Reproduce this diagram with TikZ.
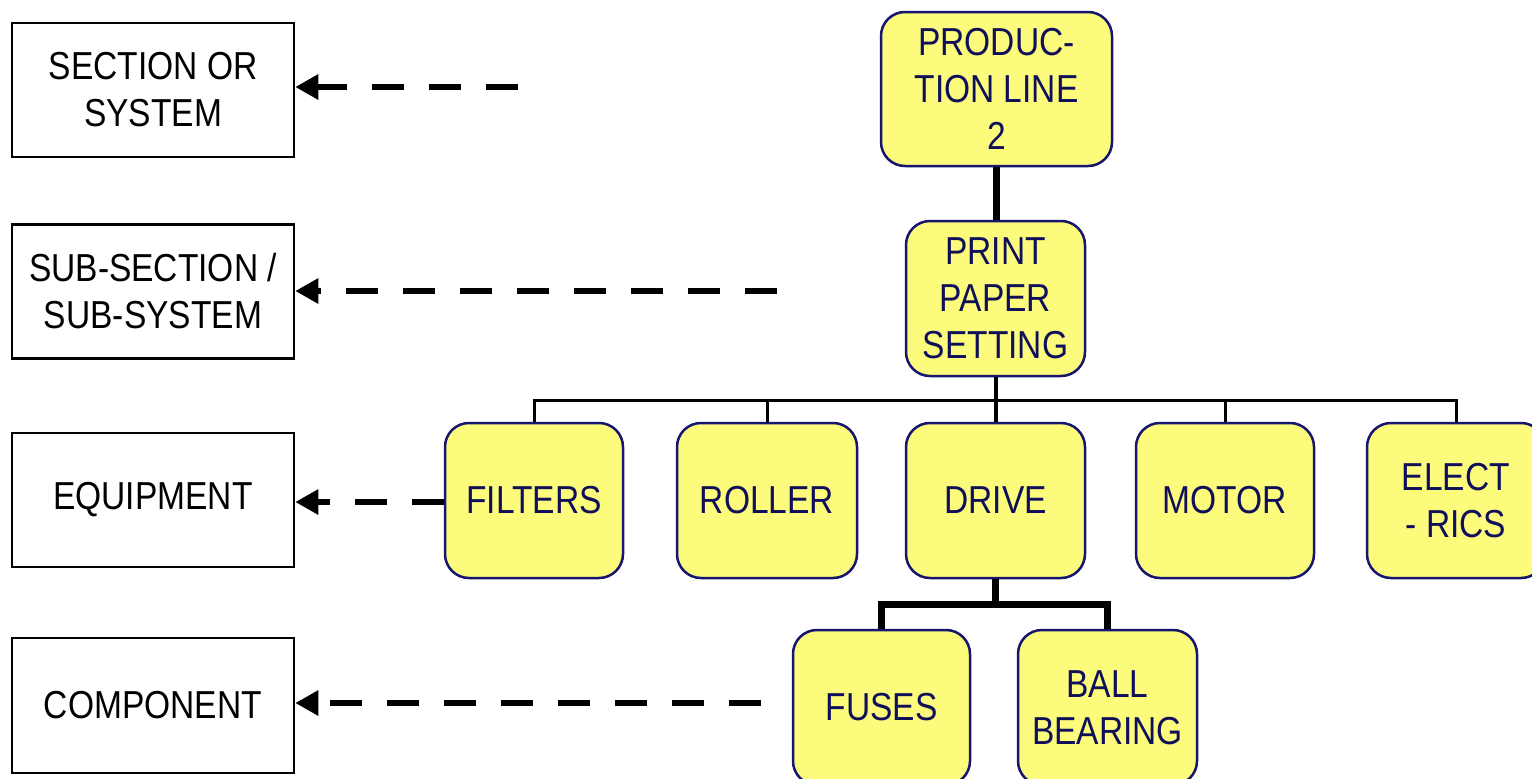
\documentclass[tikz,border=0pt]{standalone}
\usepackage{fontspec}
\setmainfont{Liberation Sans}
\newfontfamily\dgfont{Liberation Sans}[FakeStretch=0.86]
\usetikzlibrary{arrows.meta}
\definecolor{yfill}{HTML}{FDFB7B}
\definecolor{ynavy}{HTML}{16166E}
\definecolor{ytext}{HTML}{10105A}
\tikzset{
  levelbox/.style={draw=black, line width=2.5pt, minimum width=282pt, minimum height=134pt,
    align=center, inner sep=0pt, font=\dgfont\fontsize{39}{47}\selectfont},
  ybox/.style={draw=ynavy, fill=yfill, line width=2.5pt, rounded corners=24pt,
    minimum height=155pt, align=center, inner sep=0pt, text=ytext,
    font=\dgfont\fontsize{39}{47}\selectfont},
  dasharrow/.style={line width=6pt, dash pattern=on 32pt off 25pt,
    -{Triangle[length=23pt,width=24pt]}},
  thinlink/.style={line width=3pt},
  midlink/.style={line width=4pt},
  thicklink/.style={line width=7pt},
}
\begin{document}
\begin{tikzpicture}[x=1pt,y=-1pt]
\clip (0,0) rectangle (1532,779);
\fill[white] (0,0) rectangle (1532,779);

% level boxes
\node[levelbox] (sec) at (153,90) {SECTION OR\\SYSTEM};
\node[levelbox] (sub) at (153,291.5) {SUB-SECTION /\\SUB-SYSTEM};
\node[levelbox] (equ) at (153,500) {EQUIPMENT};
\node[levelbox, minimum height=135pt] (com) at (153,705.5) {COMPONENT};

% hierarchy nodes
\node[ybox, minimum width=231pt, minimum height=154pt] (prod) at (996.5,89) {PRODUC-\\TION LINE\\2};
\node[ybox, minimum width=179pt] (print) at (995.5,298.5) {PRINT\\PAPER\\SETTING};
\node[ybox, minimum width=178pt] (filters) at (534,500.5) {FILTERS};
\node[ybox, minimum width=180pt] (roller) at (767,500.5) {ROLLER};
\node[ybox, minimum width=179pt] (drive) at (995.5,500.5) {DRIVE};
\node[ybox, minimum width=178pt] (motor) at (1225,500.5) {MOTOR};
\node[ybox, minimum width=178pt] (elec) at (1456,500.5) {ELECT\\- RICS};
\node[ybox, minimum width=177pt] (fuses) at (881.5,707.5) {FUSES};
\node[ybox, minimum width=179pt] (ball) at (1107.5,707.5) {BALL\\BEARING};

% connectors
\coordinate (busy) at (0,400);
\coordinate (kbusy) at (0,604);
\draw[thicklink] (prod.south) -- (prod.south |- print.north);
\draw[midlink] (print.south) -- (print.south |- drive.north);
\draw[thinlink] (filters.north) -- (filters.north |- busy) -- (elec.north |- busy) -- (elec.north);
\draw[thinlink] (roller.north |- busy) -- (roller.north);
\draw[thinlink] (motor.north |- busy) -- (motor.north);
\draw[thicklink] (drive.south) -- (drive.south |- kbusy);
\draw[thicklink, line join=miter] (fuses.north) -- (fuses.north |- kbusy) -- (ball.north |- kbusy) -- (ball.north);

% dashed level arrows
\coordinate (a1) at (518,87);
\coordinate (a2) at (777,291);
\coordinate (a4) at (761,703);
\draw[dasharrow] (a1) -- (a1 -| sec.east);
\draw[dasharrow] (a2) -- (a2 -| sub.east);
\draw[dasharrow] ([yshift=-1.5pt]filters.west) -- ([yshift=-1.5pt]filters.west -| equ.east);
\draw[dasharrow] (a4) -- (a4 -| com.east);
\end{tikzpicture}
\end{document}
